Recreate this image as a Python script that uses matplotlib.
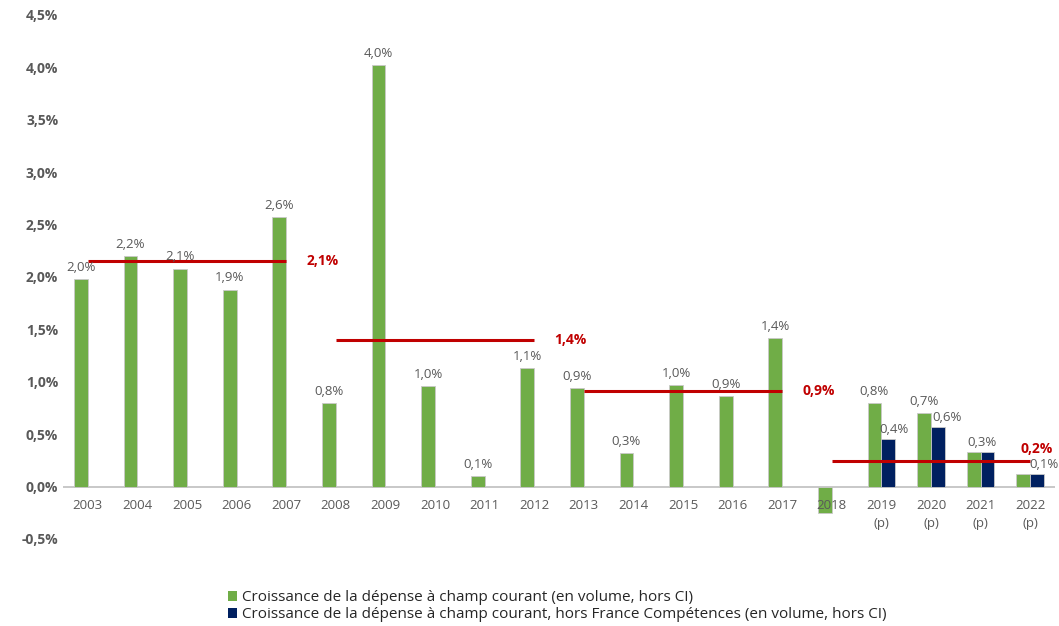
import numpy as np
import matplotlib.pyplot as plt
from matplotlib.patches import Patch

plt.rcParams['font.family'] = ['Open Sans', 'DejaVu Sans']

# --- data ---
years = ['2003', '2004', '2005', '2006', '2007', '2008', '2009', '2010', '2011', '2012',
         '2013', '2014', '2015', '2016', '2017', '2018', '2019\n(p)', '2020\n(p)', '2021\n(p)', '2022\n(p)']
green_vals = [1.98, 2.20, 2.08, 1.88, 2.57, 0.80, 4.02, 0.96, 0.10, 1.13,
              0.94, 0.32, 0.97, 0.86, 1.42, -0.25, 0.80, 0.70, 0.33, 0.12]
green_labels = ['2,0%', '2,2%', '2,1%', '1,9%', '2,6%', '0,8%', '4,0%', '1,0%', '0,1%', '1,1%',
                '0,9%', '0,3%', '1,0%', '0,9%', '1,4%', '', '0,8%', '0,7%', '', '']
# series without France Compétences only exists for 2019-2022
blue_idx = [16, 17, 18, 19]
blue_vals = [0.45, 0.57, 0.33, 0.12]
blue_labels = ['0,4%', '0,6%', '0,3%', '0,1%']
blue_label_shift = [0.12, 0.18, -0.12, 0.14]   # labels nudged sideways as in the original

# period averages (start index, end index, level, label)
avg_start = [0, 5, 10, 15]
avg_end = [4, 9, 14, 19]
avg_level = [2.15, 1.40, 0.91, 0.24]
avg_labels = ['2,1%', '1,4%', '0,9%', '0,2%']

legend_labels = ['Croissance de la dépense à champ courant (en volume, hors CI)',
                 'Croissance de la dépense à champ courant, hors France Compétences (en volume, hors CI)']

GREEN = '#70AD47'
NAVY = '#002060'
RED = '#C00000'
GREY = '#595959'

fig = plt.figure(figsize=(10.59, 6.26), dpi=100)
ax = fig.add_axes([63 / 1059, 87 / 626, 992 / 1059, 524 / 626])

x = np.arange(len(years))
w = 0.28

# green bars sit left of the category centre, blue on the right
ax.bar(x - w / 2, green_vals, width=w, color=GREEN, edgecolor='#C9C9C9', linewidth=0.6, zorder=2)
bx = np.array(blue_idx)
ax.bar(bx + w / 2, blue_vals, width=w, color=NAVY, edgecolor='#C9C9C9', linewidth=0.6, zorder=2)

for i, (v, lab) in enumerate(zip(green_vals, green_labels)):
    if lab:
        ax.text(i - w / 2, v + 0.05, lab, ha='center', va='bottom', fontsize=9.5, color=GREY, zorder=4)
for i, v, lab, dx in zip(bx, blue_vals, blue_labels, blue_label_shift):
    ax.text(i + w / 2 + dx, v + 0.03, lab, ha='center', va='bottom', fontsize=9.5, color=GREY, zorder=4)

for s, e, lvl, lab in zip(avg_start, avg_end, avg_level, avg_labels):
    ax.plot([s, e], [lvl, lvl], color=RED, linewidth=2.2, zorder=3, solid_capstyle='butt')
    if e < len(years) - 1:
        ax.text(e + 0.4, lvl, lab, ha='left', va='center', fontsize=10, fontweight='bold', color=RED)
    else:
        ax.text(e - 0.2, lvl + 0.05, lab, ha='left', va='bottom', fontsize=10, fontweight='bold', color=RED)

ax.set_xlim(-0.5, len(years) - 0.5)
ax.set_ylim(-0.5, 4.5)
yt = np.arange(-0.5, 4.51, 0.5)
ax.set_yticks(yt)
ax.set_yticklabels([f'{t:.1f}%'.replace('.', ',') for t in yt],
                   fontsize=10, fontweight='bold', color=GREY)
ax.set_xticks([])
ax.tick_params(axis='both', length=0)
for sp in ax.spines.values():
    sp.set_visible(False)
ax.axhline(0, color='#BFBFBF', linewidth=1.2, zorder=1)

# x labels sit just under the zero line, not at the bottom of the axes
for i, lab in enumerate(years):
    ax.text(i, -0.12, lab, ha='center', va='top', fontsize=9.5, color=GREY, linespacing=1.5, zorder=4)

handles = [Patch(facecolor=GREEN), Patch(facecolor=NAVY)]
fig.legend(handles, legend_labels, loc='upper left', bbox_to_anchor=(222 / 1059, 1 - 584 / 626),
           frameon=False, fontsize=11, handlelength=0.6, handleheight=0.6, handletextpad=0.3,
           labelspacing=0.15, borderaxespad=0, labelcolor='#262626')

fig.savefig('out.png', dpi=100)
